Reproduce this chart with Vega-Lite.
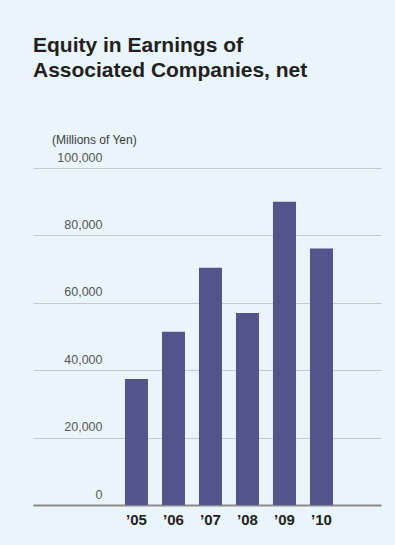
{
  "$schema": "https://vega.github.io/schema/vega-lite/v6.json",
  "width": 348,
  "height": 337,
  "autosize": {"type": "none"},
  "padding": {"left": 33, "top": 168, "right": 14, "bottom": 40},
  "background": "#e9f5fa",
  "title": {
    "text": ["Equity in Earnings of", "Associated Companies, net"],
    "anchor": "start",
    "frame": "group",
    "font": "Liberation Sans",
    "fontSize": 21,
    "fontWeight": "bold",
    "color": "#231f20",
    "lineHeight": 25,
    "offset": 52
  },
  "data": {
    "values": [
      {"year": "’05", "value": 37400},
      {"year": "’06", "value": 51400},
      {"year": "’07", "value": 70400},
      {"year": "’08", "value": 57000},
      {"year": "’09", "value": 90000},
      {"year": "’10", "value": 76100}
    ]
  },
  "mark": {"type": "bar", "color": "#52548b"},
  "encoding": {
    "x": {
      "field": "year",
      "type": "nominal",
      "sort": null,
      "scale": {
        "domain": [" ", "  ", "’05", "’06", "’07", "’08", "’09", "’10", "   "],
        "paddingInner": 0.378,
        "paddingOuter": 0.392,
        "align": 0.62
      },
      "axis": {
        "title": null,
        "labelAngle": 0,
        "ticks": false,
        "domain": true,
        "domainColor": "#8a8a8a",
        "domainWidth": 2,
        "labelFont": "Liberation Sans",
        "labelFontSize": 15,
        "labelFontWeight": "bold",
        "labelColor": "#231f20",
        "labelPadding": 7
      }
    },
    "y": {
      "field": "value",
      "type": "quantitative",
      "scale": {"domain": [0, 100000], "nice": false},
      "axis": {
        "title": "(Millions of Yen)",
        "titleAngle": 0,
        "titleX": 18.5,
        "titleY": -25,
        "titleAlign": "left",
        "titleBaseline": "alphabetic",
        "titleFont": "Liberation Sans",
        "titleFontSize": 12,
        "titleFontWeight": "normal",
        "titleColor": "#3a3a3a",
        "values": [0, 20000, 40000, 60000, 80000, 100000],
        "format": ",d",
        "domain": false,
        "ticks": false,
        "tickSize": 0,
        "grid": true,
        "gridColor": "#c6cacc",
        "gridWidth": 1,
        "labelAlign": "right",
        "labelBaseline": "alphabetic",
        "labelPadding": -69,
        "labelOffset": -7,
        "labelFont": "Liberation Sans",
        "labelFontSize": 12.5,
        "labelColor": "#555555",
        "labelFlush": false,
        "labelOverlap": false,
        "labelBound": false
      }
    }
  },
  "config": {"view": {"stroke": null}}
}
